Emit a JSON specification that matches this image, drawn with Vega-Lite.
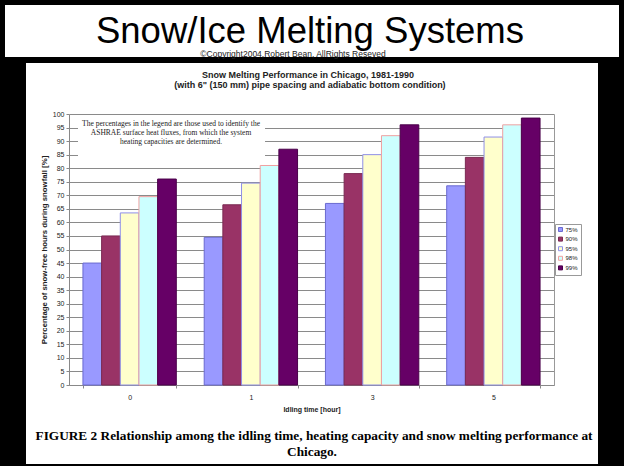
{
  "$schema": "https://vega.github.io/schema/vega-lite/v6.json",
  "background": "black",
  "padding": {"left": 5, "top": 5, "right": 5, "bottom": 2},
  "autosize": {"type": "none"},
  "width": 614,
  "height": 459,
  "config": {"font": "Liberation Sans", "view": {"fill": "white", "stroke": null}},
  "resolve": {"scale": {"x": "independent", "y": "independent"}},
  "layer": [
    {
      "data": {
        "values": [
          {"idle": "0", "cap": "75%", "pct": 45},
          {"idle": "0", "cap": "90%", "pct": 55},
          {"idle": "0", "cap": "95%", "pct": 63.5},
          {"idle": "0", "cap": "98%", "pct": 69.5},
          {"idle": "0", "cap": "99%", "pct": 76},
          {"idle": "1", "cap": "75%", "pct": 54.5},
          {"idle": "1", "cap": "90%", "pct": 66.5},
          {"idle": "1", "cap": "95%", "pct": 74.5},
          {"idle": "1", "cap": "98%", "pct": 81},
          {"idle": "1", "cap": "99%", "pct": 87},
          {"idle": "3", "cap": "75%", "pct": 67},
          {"idle": "3", "cap": "90%", "pct": 78},
          {"idle": "3", "cap": "95%", "pct": 85},
          {"idle": "3", "cap": "98%", "pct": 92},
          {"idle": "3", "cap": "99%", "pct": 96},
          {"idle": "5", "cap": "75%", "pct": 73.5},
          {"idle": "5", "cap": "90%", "pct": 84},
          {"idle": "5", "cap": "95%", "pct": 91.5},
          {"idle": "5", "cap": "98%", "pct": 96},
          {"idle": "5", "cap": "99%", "pct": 98.5}
        ]
      },
      "layer": [
        {
          "mark": {"type": "bar", "strokeWidth": 1},
          "encoding": {
            "x": {
              "field": "idle", "type": "nominal", "sort": ["0", "1", "3", "5"],
              "scale": {"range": [64, 549], "paddingInner": 0.23, "paddingOuter": 0.115},
              "axis": {"orient": "bottom", "offset": -79, "labelAngle": 0, "labelFontSize": 7, "labelColor": "#222", "labelPadding": 5, "tickSize": 3, "tickBand": "extent", "tickColor": "#888", "domainColor": "#888", "grid": false, "title": "Idling time [hour]", "titleFontSize": 7, "titleFontWeight": "bold", "titleColor": "#222", "titlePadding": 5}
            },
            "xOffset": {"field": "cap", "type": "nominal", "sort": ["75%", "90%", "95%", "98%", "99%"]},
            "y": {
              "field": "pct", "type": "quantitative",
              "scale": {"domain": [0, 100], "range": [380, 109], "nice": false},
              "axis": {"orient": "left", "offset": -64, "values": [0, 5, 10, 15, 20, 25, 30, 35, 40, 45, 50, 55, 60, 65, 70, 75, 80, 85, 90, 95, 100], "labelFontSize": 7, "labelColor": "#222", "labelPadding": 2, "tickSize": 3, "tickColor": "#888", "domainColor": "#888", "grid": true, "gridColor": "#8a8a8a", "gridWidth": 1, "title": "Percentage of snow-free hours during snowfall [%]", "titleFontSize": 7.8, "titleFontWeight": "bold", "titleColor": "#222", "titlePadding": 4}
            },
            "fill": {
              "field": "cap", "type": "nominal",
              "scale": {"domain": ["75%", "90%", "95%", "98%", "99%"], "range": ["#9999FF", "#993366", "#FFFFCC", "#CCFFFF", "#660066"]},
              "legend": {"title": null, "orient": "none", "legendX": 550, "legendY": 219, "symbolType": "square", "symbolSize": 16, "symbolStrokeWidth": 1, "labelFontSize": 6, "labelColor": "#222", "labelOffset": 2, "rowPadding": 1.6, "padding": 2.5, "strokeColor": "#999", "fillColor": "white"}
            },
            "stroke": {
              "field": "cap", "type": "nominal",
              "scale": {"domain": ["75%", "90%", "95%", "98%", "99%"], "range": ["#6a6ad0", "#7a2a52", "#8f8fe8", "#f0a0a0", "#4a004a"]},
              "legend": {"title": null, "orient": "none", "legendX": 550, "legendY": 219, "symbolType": "square", "symbolSize": 16, "symbolStrokeWidth": 1, "labelFontSize": 6, "labelColor": "#222", "labelOffset": 2, "rowPadding": 1.6, "padding": 2.5, "strokeColor": "#999", "fillColor": "white"}
            }
          }
        },
        {
          "mark": {"type": "bar", "opacity": 0},
          "encoding": {
            "x": {"field": "idle", "type": "nominal", "sort": ["0", "1", "3", "5"]},
            "y": {"field": "pct", "type": "quantitative", "axis": {"orient": "right", "offset": -65, "labels": false, "ticks": false, "grid": false, "domainColor": "#999", "title": null}}
          }
        }
      ]
    },
    {
      "data": {"values": [{}]},
      "layer": [
        {
          "mark": {"type": "rect", "fill": "black"},
          "encoding": {
            "x": {"datum": 0, "type": "quantitative", "scale": {"domain": [0, 100]}, "axis": null},
            "x2": {"datum": 100},
            "y": {"datum": 11.33, "type": "quantitative", "scale": {"domain": [0, 100], "reverse": true}, "axis": null},
            "y2": {"datum": 12.64}
          }
        },
        {
          "mark": {"type": "rect", "fill": "black"},
          "encoding": {
            "x": {"datum": 0, "type": "quantitative", "axis": null},
            "x2": {"datum": 3.42},
            "y": {"datum": 12.6, "type": "quantitative", "axis": null},
            "y2": {"datum": 100}
          }
        },
        {
          "mark": {"type": "rect", "fill": "black"},
          "encoding": {
            "x": {"datum": 96.58, "type": "quantitative", "axis": null},
            "x2": {"datum": 100},
            "y": {"datum": 12.6, "type": "quantitative", "axis": null},
            "y2": {"datum": 100}
          }
        },
        {
          "mark": {"type": "rect", "fill": "white"},
          "encoding": {
            "x": {"datum": 11.89, "type": "quantitative", "axis": null},
            "x2": {"datum": 42.35},
            "y": {"datum": 24.62, "type": "quantitative", "axis": null},
            "y2": {"datum": 33.77}
          }
        },
        {
          "mark": {"type": "text", "text": "Snow/Ice Melting Systems", "fontSize": 36.5, "font": "Liberation Sans", "color": "black", "baseline": "alphabetic", "align": "center"},
          "encoding": {"x": {"datum": 49.67, "type": "quantitative", "axis": null}, "y": {"datum": 8.3, "type": "quantitative", "axis": null}}
        },
        {
          "mark": {"type": "text", "text": "©Copyright2004,Robert Bean, AllRights Reseved", "fontSize": 8.5, "font": "Liberation Sans", "color": "#222", "baseline": "middle", "align": "center"},
          "encoding": {"x": {"datum": 46.9, "type": "quantitative", "axis": null}, "y": {"datum": 10.75, "type": "quantitative", "axis": null}}
        },
        {
          "mark": {"type": "text", "text": "The percentages in the legend are  those used to identify the", "font": "Liberation Serif", "fontSize": 7.5, "color": "#222", "align": "center", "baseline": "middle"},
          "encoding": {"x": {"datum": 27.04, "type": "quantitative", "axis": null}, "y": {"datum": 25.93, "type": "quantitative", "axis": null}}
        },
        {
          "mark": {"type": "text", "text": "ASHRAE surface heat fluxes, from which the system", "font": "Liberation Serif", "fontSize": 7.5, "color": "#222", "align": "center", "baseline": "middle"},
          "encoding": {"x": {"datum": 27.04, "type": "quantitative", "axis": null}, "y": {"datum": 27.89, "type": "quantitative", "axis": null}}
        },
        {
          "mark": {"type": "text", "text": "heating capacities are determined.", "font": "Liberation Serif", "fontSize": 7.5, "color": "#222", "align": "center", "baseline": "middle"},
          "encoding": {"x": {"datum": 27.04, "type": "quantitative", "axis": null}, "y": {"datum": 29.85, "type": "quantitative", "axis": null}}
        },
        {
          "mark": {"type": "text", "text": "Snow Melting Performance in Chicago, 1981-1990", "font": "Liberation Sans", "fontSize": 9, "fontWeight": "bold", "color": "#222", "align": "center", "baseline": "middle"},
          "encoding": {"x": {"datum": 49.35, "type": "quantitative", "axis": null}, "y": {"datum": 15.25, "type": "quantitative", "axis": null}}
        },
        {
          "mark": {"type": "text", "text": "(with 6\" (150 mm) pipe spacing and adiabatic bottom condition)", "font": "Liberation Sans", "fontSize": 9, "fontWeight": "bold", "color": "#222", "align": "center", "baseline": "middle"},
          "encoding": {"x": {"datum": 49.67, "type": "quantitative", "axis": null}, "y": {"datum": 17.43, "type": "quantitative", "axis": null}}
        },
        {
          "mark": {"type": "text", "text": "FIGURE 2 Relationship among the idling time, heating capacity and snow melting performance at", "font": "Liberation Serif", "fontSize": 13.3, "fontWeight": "bold", "color": "black", "align": "center", "baseline": "middle"},
          "encoding": {"x": {"datum": 50.33, "type": "quantitative", "axis": null}, "y": {"datum": 93.9, "type": "quantitative", "axis": null}}
        },
        {
          "mark": {"type": "text", "text": "Chicago.", "font": "Liberation Serif", "fontSize": 13.3, "fontWeight": "bold", "color": "black", "align": "center", "baseline": "middle"},
          "encoding": {"x": {"datum": 50.0, "type": "quantitative", "axis": null}, "y": {"datum": 97.39, "type": "quantitative", "axis": null}}
        }
      ]
    }
  ]
}
